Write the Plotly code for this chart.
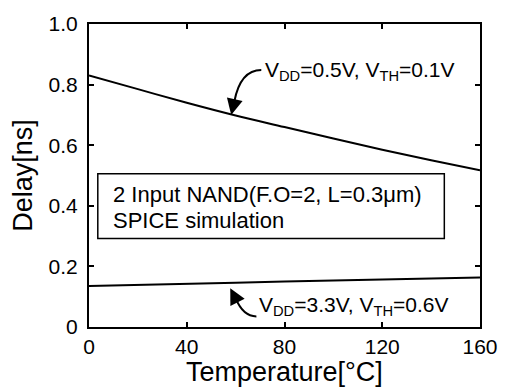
import plotly.graph_objects as go

# Gate delay vs. temperature (SPICE)
temperature = [0, 20, 40, 60, 80, 100, 120, 140, 160]
delay_low_vdd = [0.830, 0.785, 0.740, 0.698, 0.660, 0.622, 0.585, 0.550, 0.517]
delay_high_vdd = [0.135, 0.138, 0.142, 0.146, 0.150, 0.154, 0.157, 0.160, 0.163]

x_ticks = [0, 40, 80, 120, 160]
y_ticks = [0, 0.2, 0.4, 0.6, 0.8, 1.0]
y_tick_text = ["0", "0.2", "0.4", "0.6", "0.8", "1.0"]

FONT = "Liberation Sans, Arial, sans-serif"

fig = go.Figure()
fig.add_trace(go.Scatter(x=temperature, y=delay_low_vdd, mode="lines",
                         line=dict(color="black", width=2), line_shape="spline",
                         showlegend=False))
fig.add_trace(go.Scatter(x=temperature, y=delay_high_vdd, mode="lines",
                         line=dict(color="black", width=2),
                         showlegend=False))

# curved leader lines
fig.add_shape(type="path", xref="x", yref="y",
              path="M 70.5,0.848 Q 62.0,0.848 59.5,0.745",
              line=dict(color="black", width=2))
fig.add_shape(type="path", xref="x", yref="y",
              path="M 68.5,0.035 Q 63.0,0.035 60.0,0.095",
              line=dict(color="black", width=2))

# arrow heads
fig.add_annotation(x=58.2, y=0.700, ax=59.6, ay=0.750, xref="x", yref="y",
                   axref="x", ayref="y", text="", showarrow=True,
                   arrowhead=2, arrowsize=1.6, arrowwidth=2, arrowcolor="black")
fig.add_annotation(x=57.8, y=0.128, ax=60.2, ay=0.090, xref="x", yref="y",
                   axref="x", ayref="y", text="", showarrow=True,
                   arrowhead=2, arrowsize=1.6, arrowwidth=2, arrowcolor="black")

fig.add_annotation(x=71.0, y=0.846, xref="x", yref="y", xanchor="left",
                   text="V<sub>DD</sub>=0.5V, V<sub>TH</sub>=0.1V", showarrow=False,
                   font=dict(family=FONT, size=21, color="black"))
fig.add_annotation(x=68.8, y=0.068, xref="x", yref="y", xanchor="left",
                   text="V<sub>DD</sub>=3.3V, V<sub>TH</sub>=0.6V", showarrow=False,
                   font=dict(family=FONT, size=21, color="black"))

# description box
fig.add_shape(type="rect", xref="x", yref="y", x0=3.6, x1=145.4, y0=0.292, y1=0.506,
              line=dict(color="black", width=1.5), fillcolor="white")
fig.add_annotation(x=8.9, y=0.438, xref="x", yref="y", xanchor="left",
                   text="2 Input NAND(F.O=2, L=0.3\u03bcm)", showarrow=False,
                   font=dict(family=FONT, size=22, color="black"))
fig.add_annotation(x=8.9, y=0.351, xref="x", yref="y", xanchor="left",
                   text="SPICE simulation", showarrow=False,
                   font=dict(family=FONT, size=22, color="black"))

# x-axis title
fig.add_annotation(x=0.5, y=-0.147, xref="paper", yref="paper",
                   xanchor="center", yanchor="middle", showarrow=False,
                   text="Temperature[\u00b0C]",
                   font=dict(family=FONT, size=27, color="black"))

axis_common = dict(showline=True, linecolor="black", linewidth=2, mirror="ticks",
                   ticks="inside", ticklen=5, tickwidth=1.5, tickcolor="black",
                   showgrid=False, zeroline=False,
                   tickfont=dict(family=FONT, size=21, color="black"))

fig.update_xaxes(range=[0, 160], tickvals=x_ticks, **axis_common)
fig.update_yaxes(range=[0, 1.0], tickvals=y_ticks, ticktext=y_tick_text, **axis_common,
                 ticklabelstandoff=5,
                 title=dict(text="Delay[ns]", standoff=8,
                            font=dict(family=FONT, size=27, color="black")))

fig.update_layout(width=510, height=389, margin=dict(l=89, r=26, t=19, b=62),
                  plot_bgcolor="white", paper_bgcolor="white")

fig.write_html("out.html")
